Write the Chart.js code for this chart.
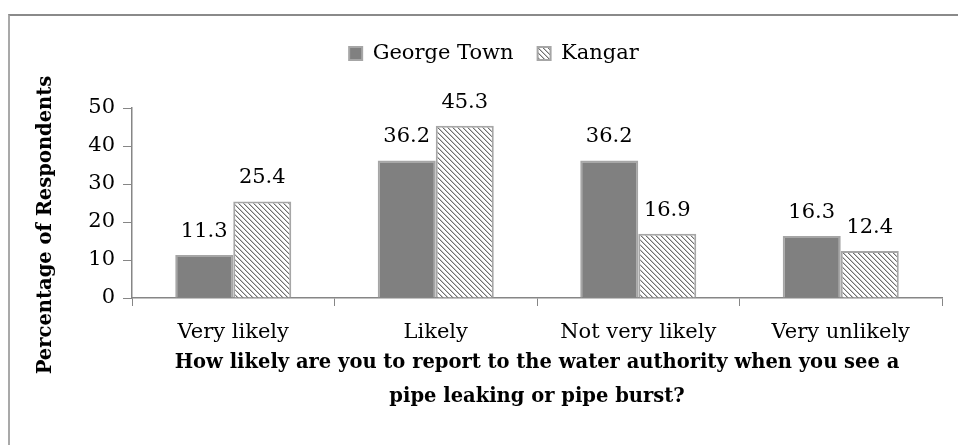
<!DOCTYPE html>
<html>
<head>
<meta charset="utf-8">
<script src="https://cdn.jsdelivr.net/npm/chart.js@4.4.1/dist/chart.umd.min.js"></script>
<style>
  html, body { margin: 0; padding: 0; background: #fff; overflow: hidden; }
  #wrap { position: relative; width: 958px; height: 445px; }
  #frame { position: absolute; left: 8px; top: 14px; width: 1200px; height: 1200px;
           border-top: 2px solid #8a8a8a; border-left: 2px solid #a9a9a9; box-sizing: border-box; }
  canvas { position: absolute; left: 0; top: 0; }
</style>
</head>
<body>
<div id="wrap">
  <div id="frame"></div>
  <canvas id="c" width="958" height="445"></canvas>
</div>
<script>
// ---- data ----
const categories = ['Very likely', 'Likely', 'Not very likely', 'Very unlikely'];
const georgeTown = [11.3, 36.2, 36.2, 16.3];
const kangar = [25.4, 45.3, 16.9, 12.4];
const seriesNames = ['George Town', 'Kangar'];
const yTicks = [0, 10, 20, 30, 40, 50];
const xTitle = ['How likely are you to report to the water authority when you see a', 'pipe leaking or pipe burst?'];
const yTitle = 'Percentage of Respondents';

// ---- styling ----
const FONT = '"DejaVu Serif", "Liberation Serif", serif';
const FS = 21;
const FSB = 19.5;
const AXIS = '#868686';

function hatch() {
  const t = document.createElement('canvas');
  t.width = 5; t.height = 5;
  const g = t.getContext('2d');
  g.fillStyle = '#ffffff';
  g.fillRect(0, 0, 5, 5);
  for (let i = 0; i < 5; i++) {
    g.fillStyle = '#707070';
    g.fillRect(i, i, 1, 1);
    g.fillStyle = '#c4c4c4';
    g.fillRect((i + 1) % 5, i, 1, 1);
  }
  return document.getElementById('c').getContext('2d').createPattern(t, 'repeat');
}

const valueLabels = {
  id: 'valueLabels',
  afterDatasetsDraw(chart) {
    const ctx = chart.ctx;
    ctx.save();
    ctx.font = FS + 'px ' + FONT;
    ctx.fillStyle = '#000';
    ctx.textAlign = 'center';
    ctx.textBaseline = 'alphabetic';
    chart.data.datasets.forEach((ds, di) => {
      chart.getDatasetMeta(di).data.forEach((el, i) => {
        ctx.fillText(ds.data[i].toFixed(1), el.x, el.y - 18);
      });
    });
    ctx.restore();
  }
};

const yTitlePlugin = {
  id: 'yTitlePlugin',
  afterDraw(chart) {
    const ctx = chart.ctx;
    const a = chart.chartArea;
    ctx.save();
    ctx.font = 'bold ' + FSB + 'px ' + FONT;
    ctx.fillStyle = '#000';
    ctx.textAlign = 'center';
    ctx.textBaseline = 'middle';
    ctx.translate(a.left - 86, a.top + 117);
    ctx.rotate(-Math.PI / 2);
    ctx.fillText(yTitle, 0, 0);
    ctx.restore();
  }
};

const legendFix = {
  id: 'legendFix',
  beforeLayout(chart) {
    const lg = chart.legend;
    if (lg && !lg._patched) {
      const orig = lg.fit.bind(lg);
      lg.fit = function () { orig(); this.height = 89; };
      lg._patched = true;
    }
  },
  afterLayout(chart) {
    const lg = chart.legend;
    if (lg) { lg.left += 23; lg.right += 23; }
  }
};

new Chart(document.getElementById('c'), {
  type: 'bar',
  data: {
    labels: categories,
    datasets: [
      { label: seriesNames[0], data: georgeTown, backgroundColor: '#808080', borderColor: '#a6a6a6', borderWidth: 2 },
      { label: seriesNames[1], data: kangar, backgroundColor: hatch(), borderColor: '#a6a6a6', borderWidth: 2 }
    ]
  },
  options: {
    responsive: false,
    animation: false,
    devicePixelRatio: 1,
    categoryPercentage: 0.573,
    barPercentage: 1.0,
    layout: { padding: { top: 19, right: 16, left: 0, bottom: 0 } },
    plugins: {
      legend: {
        position: 'top',
        labels: { boxWidth: 13, boxHeight: 13, padding: 24, color: '#000', font: { family: FONT, size: FS } }
      },
      tooltip: { enabled: false }
    },
    scales: {
      x: {
        grid: { display: true, drawOnChartArea: false, drawTicks: true, tickLength: 8, color: AXIS, offset: true },
        border: { display: true, color: AXIS, width: 1.5 },
        ticks: { color: '#000', font: { family: FONT, size: FS }, padding: 14 },
        title: { display: true, text: xTitle, color: '#000', font: { family: FONT, size: FSB, weight: 'bold', lineHeight: '34px' }, padding: { top: 0, bottom: 31 } },
        afterFit(s) { s.height = 147; }
      },
      y: {
        min: 0, max: 50,
        afterBuildTicks(s) { s.ticks = yTicks.map(v => ({ value: v })); },
        grid: { display: true, drawOnChartArea: false, drawTicks: true, tickLength: 9, color: AXIS },
        border: { display: true, color: AXIS, width: 1.5 },
        ticks: { color: '#000', font: { family: FONT, size: FS }, padding: 8 },
        afterFit(s) { s.width = 132; }
      }
    }
  },
  plugins: [valueLabels, yTitlePlugin, legendFix]
});
</script>
</body>
</html>
